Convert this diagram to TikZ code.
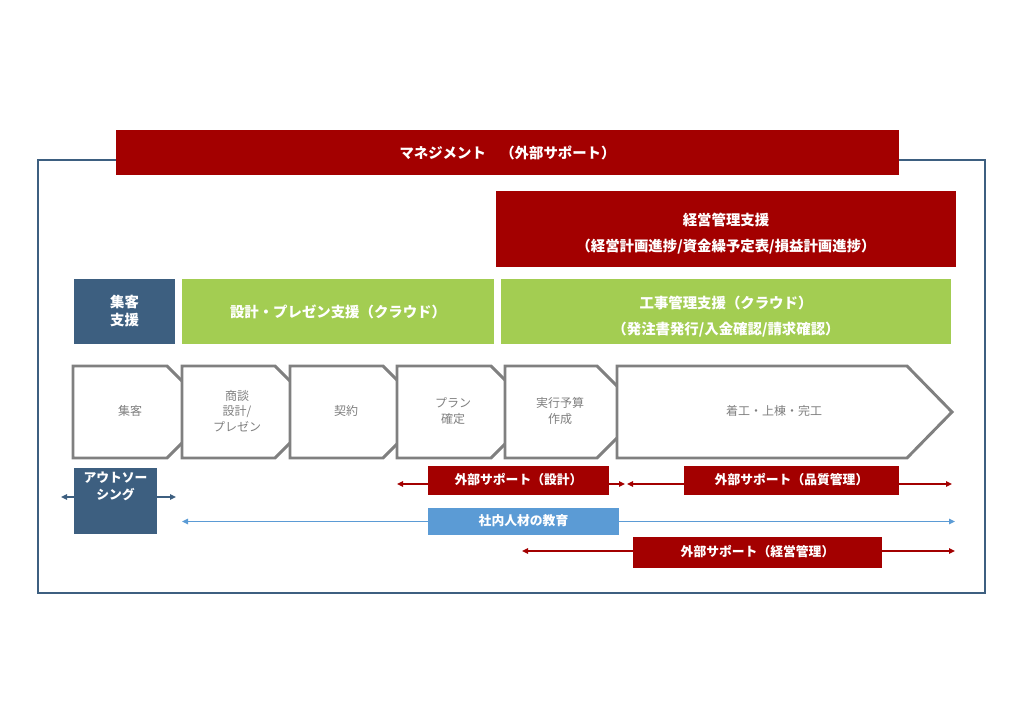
\documentclass[tikz,border=0pt]{standalone}
\usepackage{fontspec}
\setmainfont{Noto Sans CJK JP}
\usetikzlibrary{arrows.meta}
\definecolor{dred}{HTML}{A30000}
\definecolor{dblue}{HTML}{3D5F80}
\definecolor{lgreen}{HTML}{A3CD52}
\definecolor{lblue}{HTML}{5B9BD5}
\definecolor{pgray}{HTML}{808080}
\newcommand\twolines[2]{\raisebox{-3.5pt}[\height][\depth]{\begin{tabular}{@{}c@{}}#1\\#2\end{tabular}}}
\tikzset{
  sz/.style 2 args={minimum width=#1*0.75pt, minimum height=#2*0.75pt},
  boxbase/.style={inner sep=0pt, draw=none, text=white, align=center, font=\bfseries\fontsize{10.8pt}{19.5pt}\selectfont},
  redbox/.style={boxbase, fill=dred},
  greenbox/.style={boxbase, fill=lgreen},
  bluebox/.style={boxbase, fill=dblue},
  lbluebox/.style={boxbase, fill=lblue},
  smalltxt/.style={font=\bfseries\fontsize{9.6pt}{12.8pt}\selectfont},
  proc/.style={draw=pgray, line width=2.2pt, fill=white, line join=miter},
  proctxt/.style={text=pgray, align=center, font=\fontsize{9pt}{11.4pt}\selectfont, inner sep=0pt},
  frame/.style={draw=dblue, line width=1.9pt},
  rarr/.style={draw=dred, line width=1.1pt, -{Triangle[length=4.5pt,width=4pt]}},
  barr/.style={draw=dblue, line width=1.1pt, -{Triangle[length=4.5pt,width=4pt]}},
  larr/.style={draw=lblue, line width=1.1pt, -{Triangle[length=4.5pt,width=4pt]}},
}
\begin{document}
\begin{tikzpicture}[x=0.75pt,y=-0.75pt]
\useasboundingbox (0,0) rectangle (1024,724);
% outer frame
\draw[frame] (38,160) rectangle (985,593);
% top bars
\node[redbox, sz={783}{45}] (mgmt) at (507.5,152.5) {マネジメント　（外部サポート）};
\node[redbox, sz={460}{76}] (keiei) at (726,229) {\twolines{経営管理支援}{（経営計画進捗/資金繰予定表/損益計画進捗）}};
\node[bluebox, sz={101}{65}, font=\bfseries\fontsize{10.8pt}{13.5pt}\selectfont] (shien) at (124.5,311.5) {集客\\支援};
\node[greenbox, sz={312}{65}] (cloud1) at (338,311.5) {設計・プレゼン支援（クラウド）};
\node[greenbox, sz={450}{65}] (cloud2) at (726,311.5) {\twolines{工事管理支援（クラウド）}{（発注書発行/入金確認/請求確認）}};
% process chevrons
\draw[proc] (73,366) -- (167,366) -- (213,412) -- (167,458) -- (73,458) -- cycle;
\draw[proc] (182,366) -- (275,366) -- (321,412) -- (275,458) -- (182,458) -- cycle;
\draw[proc] (290,366) -- (383,366) -- (429,412) -- (383,458) -- (290,458) -- cycle;
\draw[proc] (397,366) -- (491,366) -- (537,412) -- (491,458) -- (397,458) -- cycle;
\draw[proc] (505,366) -- (597,366) -- (643,412) -- (597,458) -- (505,458) -- cycle;
\draw[proc] (617,366) -- (907,366) -- (952,412) -- (907,458) -- (617,458) -- cycle;
\node[proctxt] (p1) at (130,411) {集客};
\node[proctxt] (p2) at (237,411) {商談\\設計/\\プレゼン};
\node[proctxt] (p3) at (346,411) {契約};
\node[proctxt] (p4) at (453,411) {プラン\\確定};
\node[proctxt] (p5) at (560,411) {実行予算\\作成};
\node[proctxt] (p6) at (774,411) {着工・上棟・完工};
% bottom row
\node[bluebox, smalltxt, sz={83}{66}, anchor=north] (out) at (115.5,468) {};
\node[text=white, smalltxt, align=center, inner sep=0pt, anchor=north] (outt) at (115.5,472) {アウトソー\\シング};
\coordinate (ol) at (61,497);
\coordinate (or) at (176,497);
\draw[barr] (ol -| out.west) -- (ol);
\draw[barr] (or -| out.east) -- (or);
\node[redbox, smalltxt, sz={181}{29}] (gs) at (518.5,480.5) {\raisebox{3pt}{外部サポート（設計）}};
\coordinate (gsl) at (397,484);
\coordinate (gsr) at (625,484);
\draw[rarr] (gsl -| gs.west) -- (gsl);
\draw[rarr] (gsr -| gs.east) -- (gsr);
\node[redbox, smalltxt, sz={215}{29}] (hq) at (791.5,480.5) {\raisebox{3pt}{外部サポート（品質管理）}};
\coordinate (hql) at (627,484);
\coordinate (hqr) at (952,484);
\draw[rarr] (hql -| hq.west) -- (hql);
\draw[rarr] (hqr -| hq.east) -- (hqr);
\node[lbluebox, smalltxt, sz={191}{27}] (ky) at (523.5,521.5) {\raisebox{2pt}{社内人材の教育}};
\coordinate (kyl) at (182,521.5);
\coordinate (kyr) at (955,521.5);
\draw[larr] (ky.west) -- (kyl);
\draw[larr] (ky.east) -- (kyr);
\node[redbox, smalltxt, sz={249}{31}] (km) at (757.5,552.5) {\raisebox{3pt}{外部サポート（経営管理）}};
\coordinate (kml) at (522,551);
\coordinate (kmr) at (955,551);
\draw[rarr] (kml -| km.west) -- (kml);
\draw[rarr] (kmr -| km.east) -- (kmr);
\end{tikzpicture}
\end{document}
